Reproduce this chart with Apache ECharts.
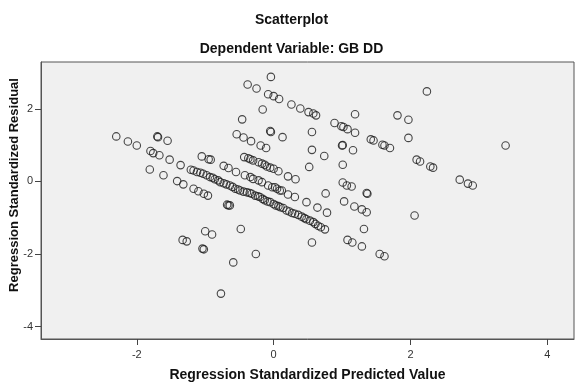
<!DOCTYPE html>
<html>
<head>
<meta charset="utf-8">
<script src="https://cdn.jsdelivr.net/npm/echarts@6/dist/echarts.min.js"></script>
<style>html,body{margin:0;padding:0;background:#fff}#c{width:583px;height:385px}</style>
</head>
<body>
<div id="c"></div>
<script>
const titleText = "Scatterplot";
const subtitleText = "Dependent Variable: GB DD";
const xAxisName = "Regression Standardized Predicted Value";
const yAxisName = "Regression Standardized Residual";
const xTicks = [-2, 0, 2, 4];
const yTicks = [-4, -2, 0, 2];

// Predicted values (x) and residuals (y)
const predicted = [
-2.30,-2.13,-2.00,-1.70,-1.69,-1.55,-1.80,-1.76,-1.67,-1.52,-1.36,-1.81,-1.61,
-1.05,-0.95,-0.92,-0.73,-0.66,-0.55,
-1.21,-1.17,-1.12,-1.07,-1.03,-0.98,-0.93,-0.89,-0.86,-0.81,-0.78,-0.73,-0.69,-0.64,-0.60,-0.56,-0.52,-0.49,-0.44,-0.39,-0.35,-0.32,-0.27,-0.23,-0.20,-0.16,-0.13,-0.09,-0.05,0.00,0.03,0.07,0.10,0.14,0.19,0.23,0.27,0.31,0.36,0.41,0.45,0.48,0.53,0.58,0.61,0.65,0.69,0.75,
-1.41,-1.32,-1.17,-1.10,-1.02,-0.96,-0.68,-0.66,-0.64,0.56,
-0.42,-0.34,-0.30,-0.22,-0.17,-0.08,-0.02,0.02,0.05,0.09,0.12,0.21,0.31,0.48,0.64,0.78,
-0.43,-0.37,-0.34,-0.30,-0.22,-0.17,-0.13,-0.10,-0.05,0.00,0.07,0.21,0.32,
-0.54,-0.44,-0.33,-0.19,-0.11,-0.05,-0.04,0.13,-0.16,-0.46,
-0.04,-0.38,-0.25,-0.08,0.00,0.08,0.26,0.39,0.51,0.58,0.62,
0.56,0.56,0.74,0.52,0.89,0.99,1.02,1.08,1.19,1.19,1.00,1.01,1.16,1.01,1.01,1.07,1.14,0.76,1.03,1.36,1.37,
1.42,1.46,1.59,1.62,1.70,1.81,1.97,1.97,2.24,2.09,2.14,2.29,2.33,3.39,2.72,2.84,2.91,2.06,
1.18,1.29,1.36,1.32,1.08,1.15,1.29,1.55,1.62,
-1.00,-0.90,-1.33,-1.27,-1.04,-1.02,-0.77,-0.48,-0.26,-0.59
];
const residual = [
1.24,1.10,0.99,1.24,1.22,1.12,0.84,0.78,0.72,0.60,0.45,0.33,0.17,
0.69,0.61,0.60,0.43,0.37,0.26,
0.32,0.30,0.26,0.24,0.21,0.17,0.12,0.10,0.06,0.03,-0.02,-0.05,-0.08,-0.11,-0.15,-0.20,-0.22,-0.25,-0.28,-0.30,-0.32,-0.34,-0.39,-0.41,-0.43,-0.48,-0.52,-0.55,-0.57,-0.62,-0.66,-0.68,-0.71,-0.73,-0.80,-0.83,-0.87,-0.89,-0.92,-0.97,-1.01,-1.04,-1.08,-1.12,-1.17,-1.22,-1.26,-1.32,
0.01,-0.08,-0.20,-0.27,-0.34,-0.39,-0.64,-0.66,-0.66,-1.68,
0.17,0.12,0.07,0.03,-0.02,-0.11,-0.16,-0.16,-0.20,-0.25,-0.25,-0.36,-0.43,-0.57,-0.72,-0.86,
0.67,0.64,0.61,0.58,0.53,0.49,0.46,0.41,0.38,0.35,0.28,0.14,0.06,
1.30,1.21,1.11,0.99,0.92,1.39,1.36,1.22,1.98,1.71,
2.88,2.67,2.56,2.40,2.35,2.27,2.12,2.01,1.91,1.87,1.82,
1.36,0.87,0.70,0.40,1.61,1.52,1.50,1.44,1.34,1.85,0.99,1.00,0.86,0.46,-0.03,-0.11,-0.14,-0.33,-0.55,-0.32,-0.34,
1.16,1.13,1.01,0.99,0.92,1.82,1.70,1.20,2.48,0.60,0.55,0.41,0.38,0.99,0.05,-0.06,-0.11,-0.94,
-0.69,-0.77,-0.85,-1.31,-1.61,-1.68,-1.79,-2.00,-2.06,
-1.37,-1.46,-1.61,-1.65,-1.85,-1.87,-3.09,-1.31,-2.00,-2.23
];

const points = predicted.map((x, i) => [x, residual[i]]);
const chart = echarts.init(document.getElementById('c'), null, {renderer: 'canvas'});
const FONT = '"Liberation Sans", Arial, sans-serif';
chart.setOption({
  animation: false,
  backgroundColor: '#ffffff',
  title: [
    {text: titleText, left: 'center', top: 8, textStyle: {fontFamily: FONT, fontSize: 14, fontWeight: 'bold', color: '#111'}},
    {text: subtitleText, left: 'center', top: 37, textStyle: {fontFamily: FONT, fontSize: 14, fontWeight: 'bold', color: '#111'}}
  ],
  graphic: [{
    type: 'text', x: 14, y: 185, rotation: Math.PI / 2,
    style: {text: yAxisName, fontFamily: FONT, fontSize: 13, fontWeight: 'bold', fill: '#111', align: 'center', verticalAlign: 'middle'}
  }],
  grid: {left: 41, right: 9, top: 62, bottom: 46, outerBoundsMode: 'none', containLabel: false, show: true, backgroundColor: '#f0f0f0', borderColor: '#555', borderWidth: 1},
  xAxis: {
    type: 'value', min: -3.40, max: 4.39,
    name: xAxisName, nameLocation: 'middle', nameGap: 29,
    nameTextStyle: {fontFamily: FONT, fontSize: 14, fontWeight: 'bold', color: '#111'},
    axisLine: {show: true, onZero: false, lineStyle: {color: '#555', width: 1}},
    axisTick: {show: true, inside: false, length: 6, customValues: xTicks, lineStyle: {color: '#444', width: 1}},
    axisLabel: {customValues: xTicks, fontFamily: FONT, fontSize: 11, color: '#333', margin: 10},
    splitLine: {show: false}
  },
  yAxis: {
    type: 'value', min: -4.34, max: 3.29,
    axisLine: {show: true, onZero: false, lineStyle: {color: '#555', width: 1}},
    axisTick: {show: true, inside: false, length: 6, customValues: yTicks, lineStyle: {color: '#444', width: 1}},
    axisLabel: {customValues: yTicks, fontFamily: FONT, fontSize: 11, color: '#333', margin: 8},
    splitLine: {show: false}
  },
  series: [{
    type: 'scatter',
    data: points,
    symbol: 'circle',
    symbolSize: 7.5,
    itemStyle: {color: 'rgba(0,0,0,0)', borderColor: '#1a1a1a', borderWidth: 1.1, opacity: 0.8}
  }]
});
</script>
</body>
</html>
